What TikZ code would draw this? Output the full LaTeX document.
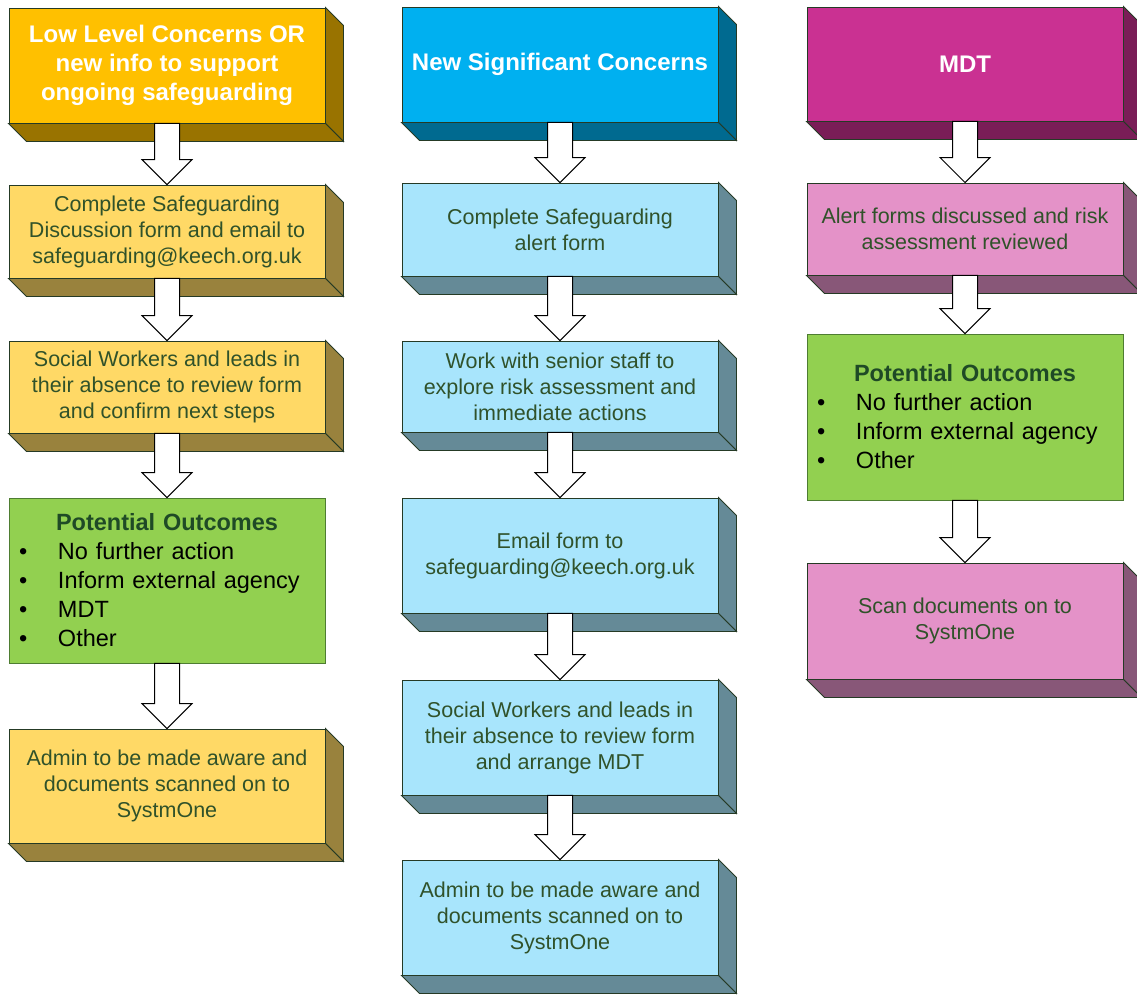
\documentclass[tikz,border=0pt]{standalone}
\usepackage{fontspec}
\setmainfont{Liberation Sans}
\usetikzlibrary{calc}

\definecolor{edgecol}{HTML}{253A25}
\definecolor{textgreen}{HTML}{30522A}
\definecolor{headgreen}{HTML}{1F4A26}
\definecolor{orangehd}{HTML}{FFC000}
\definecolor{orangehddk}{HTML}{997300}
\definecolor{orangelt}{HTML}{FFD966}
\definecolor{orangeltdk}{HTML}{99823D}
\definecolor{bluehd}{HTML}{00B0F0}
\definecolor{bluehddk}{HTML}{006A90}
\definecolor{bluelt}{HTML}{A8E5FC}
\definecolor{blueltdk}{HTML}{658A97}
\definecolor{pinkhd}{HTML}{CA3192}
\definecolor{pinkhddk}{HTML}{7A1D57}
\definecolor{pinklt}{HTML}{E492C8}
\definecolor{pinkltdk}{HTML}{885778}
\definecolor{outgreen}{HTML}{92D050}
\definecolor{outedge}{HTML}{4E7D32}

\newcommand{\headfont}{\fontsize{24}{29}\selectfont\bfseries}
\newcommand{\bodyfont}{\fontsize{21.5}{26}\selectfont}
\newcommand{\outfont}{\fontsize{23.5}{29}\selectfont}

% 3d side and bottom faces of a box
\newcommand{\extrude}[2]{%
  \filldraw[fill=#2, draw=edgecol, line width=0.9pt] (#1.north east) -- ++(18,18)
    -- ([shift={(18,18)}]#1.south east) -- (#1.south east) -- cycle;
  \filldraw[fill=#2, draw=edgecol, line width=0.9pt] (#1.south west) -- ++(18,18)
    -- ([shift={(18,18)}]#1.south east) -- (#1.south east) -- cycle;}

% hollow block arrow between two boxes
\newcommand{\flow}[2]{%
  \filldraw[blockarrow] let \p1=(#1.south), \p2=(#2.north) in
    (\x1-12.5pt,\y1) -- (\x1-12.5pt,\y2+25pt) -- (\x1-25pt,\y2+25pt) -- (\x1,\y2)
    -- (\x1+25pt,\y2+25pt) -- (\x1+12.5pt,\y2+25pt) -- (\x1+12.5pt,\y1) -- cycle;}

\newcommand{\outhead}{\makebox[316pt][c]{\bfseries\color{headgreen}Potential Outcomes}}
\newcommand{\outitem}[1]{\hspace*{10pt}\makebox[39pt][l]{\textbullet}#1}

\tikzset{
  base/.style={draw=edgecol, line width=0.9pt, inner sep=0pt, minimum width=316pt, align=center},
  headbox/.style={base, fill=#1, text=white, font=\headfont},
  stepbox/.style={base, fill=#1, text=textgreen, font=\bodyfont},
  outbox/.style={base, fill=outgreen, draw=outedge, text=black, font=\outfont,
    align=left, text width=316pt},
  blockarrow/.style={draw=black, fill=white, line width=1pt, line join=miter}
}

\begin{document}
\begin{tikzpicture}[x=1pt, y=-1pt]
  \useasboundingbox (0,0) rectangle (1137,994);

  % left column
  \node[headbox=orangehd, minimum height=115pt] (a1) at (167,65.5)
    {Low Level Concerns OR\\new info to support\\ongoing safeguarding};
  \node[stepbox=orangelt, minimum height=93pt] (a2) at (167,231.5)
    {Complete Safeguarding\\Discussion form and email to\\safeguarding@keech.org.uk};
  \node[stepbox=orangelt, minimum height=92pt] (a3) at (167,387)
    {Social Workers and leads in\\their absence to review form\\and confirm next steps};
  \node[outbox, minimum height=165pt] (a4) at (167,580.5)
    {\outhead\\\outitem{No further action}\\\outitem{Inform external agency}\\\outitem{MDT}\\\outitem{Other}};
  \node[stepbox=orangelt, minimum height=114pt] (a5) at (167,786)
    {Admin to be made aware and\\documents scanned on to\\SystmOne};

  % middle column
  \node[headbox=bluehd, minimum height=115pt] (b1) at (560,64.5) {New Significant Concerns};
  \node[stepbox=bluelt, minimum height=93pt] (b2) at (560,229.5)
    {Complete Safeguarding\\alert form};
  \node[stepbox=bluelt, minimum height=91pt] (b3) at (560,386.5)
    {Work with senior staff to\\explore risk assessment and\\immediate actions};
  \node[stepbox=bluelt, minimum height=115pt] (b4) at (560,555.5)
    {Email form to\\safeguarding@keech.org.uk};
  \node[stepbox=bluelt, minimum height=115pt] (b5) at (560,737.5)
    {Social Workers and leads in\\their absence to review form\\and arrange MDT};
  \node[stepbox=bluelt, minimum height=115pt] (b6) at (560,917.5)
    {Admin to be made aware and\\documents scanned on to\\SystmOne};

  % right column
  \node[headbox=pinkhd, minimum height=114pt] (c1) at (965,64) {MDT};
  \node[stepbox=pinklt, minimum height=92pt] (c2) at (965,229)
    {Alert forms discussed and risk\\assessment reviewed};
  \node[outbox, minimum height=166pt] (c3) at (965,417)
    {\outhead\\\outitem{No further action}\\\outitem{Inform external agency}\\\outitem{Other}};
  \node[stepbox=pinklt, minimum height=116pt] (c4) at (965,621)
    {Scan documents on to\\SystmOne};

  \extrude{a1}{orangehddk}
  \extrude{a2}{orangeltdk}
  \extrude{a3}{orangeltdk}
  \extrude{a5}{orangeltdk}
  \extrude{b1}{bluehddk}
  \foreach \n in {b2,b3,b4,b5,b6} {\extrude{\n}{blueltdk}}
  \extrude{c1}{pinkhddk}
  \extrude{c2}{pinkltdk}
  \extrude{c4}{pinkltdk}

  % arrows
  \flow{a1}{a2} \flow{a2}{a3} \flow{a3}{a4} \flow{a4}{a5}
  \flow{b1}{b2} \flow{b2}{b3} \flow{b3}{b4} \flow{b4}{b5} \flow{b5}{b6}
  \flow{c1}{c2} \flow{c2}{c3} \flow{c3}{c4}
\end{tikzpicture}
\end{document}
